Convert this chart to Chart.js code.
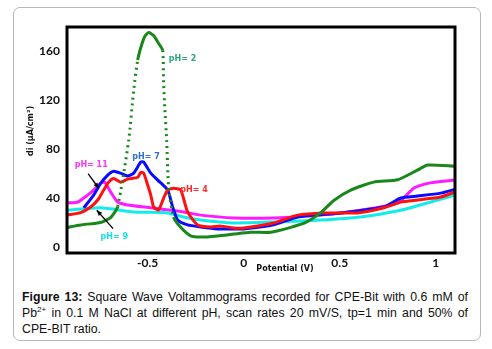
<!DOCTYPE html>
<html>
<head>
<meta charset="utf-8">
<script src="https://cdn.jsdelivr.net/npm/chart.js@4.4.1/dist/chart.umd.min.js"></script>
<style>
  html, body { margin: 0; padding: 0; background: #fff; }
  #page { position: relative; width: 492px; height: 349px; overflow: hidden; }
  #box {
    position: absolute; left: 13px; top: 7px; width: 466px; height: 332px;
    border: 1px solid #b8b8b8; border-radius: 7px;
  }
  #wrap { position: absolute; left: 0; top: 0; width: 492px; height: 280px; }
  #caption {
    position: absolute; left: 22px; top: 289px; width: 446px;
    font-family: "Liberation Sans", Arial, sans-serif; font-size: 12.3px;
    line-height: 16px; color: #111; text-align: justify;
  }
  #caption sup { font-size: 8px; line-height: 0; }
</style>
</head>
<body>
<div id="page">
  <div id="box"></div>
  <div id="wrap"><canvas id="swvChart" width="492" height="280"></canvas></div>
  <div id="caption"><b>Figure 13:</b> Square Wave Voltammograms recorded for CPE-Bit with 0.6 mM of Pb<sup>2+</sup> in 0.1 M NaCl at different pH, scan rates 20 mV/S, tp=1 min and 50% of CPE-BIT ratio.</div>
</div>
<script>
  // tick labels
  var yTicks = [0, 40, 80, 120, 160];
  var xTicks = [-0.5, 0, 0.5, 1];

  // pH 2 (green)
  var ph2X = [-0.917, -0.85, -0.745, -0.693, -0.656, -0.599, -0.573, -0.552, -0.536, -0.516, -0.495, -0.469, -0.443, -0.422, -0.417, -0.411, -0.401, -0.391, -0.365, -0.328, -0.276, -0.224, -0.135, -0.052, 0.036, 0.141, 0.245, 0.323, 0.401, 0.469, 0.557, 0.677, 0.802, 0.906, 0.958, 1.1];
  var ph2Y = [16, 18, 20, 24, 33, 87, 128, 153, 163, 172, 175.5, 173, 166.5, 161, 134, 114, 87, 49, 24.5, 16, 9, 8, 9, 10.5, 12, 12, 16, 20, 28, 38, 46.5, 53, 55, 63, 67, 66];

  // pH 4 (red)
  var ph4X = [-0.917, -0.849, -0.797, -0.76, -0.729, -0.703, -0.677, -0.641, -0.604, -0.552, -0.536, -0.521, -0.5, -0.484, -0.469, -0.443, -0.417, -0.396, -0.365, -0.328, -0.292, -0.24, -0.172, -0.12, -0.052, 0, 0.156, 0.281, 0.417, 0.594, 0.729, 0.818, 0.906, 1.026, 1.1];
  var ph4Y = [26, 28, 32.7, 38.4, 46.5, 53, 56, 53, 55.5, 57, 61, 60.4, 50.6, 42.4, 32.7, 30.2, 40, 46.5, 48, 46.5, 28.6, 18, 16.3, 17, 15.5, 15.5, 19.6, 26, 27.8, 27.8, 32, 36.7, 38.4, 40.8, 45];

  // pH 7 (blue)
  var ph7X = [-0.833, -0.781, -0.745, -0.708, -0.677, -0.641, -0.604, -0.573, -0.536, -0.521, -0.484, -0.448, -0.396, -0.37, -0.344, -0.292, -0.224, -0.135, -0.052, 0, 0.156, 0.281, 0.505, 0.729, 0.818, 0.906, 1.026, 1.1];
  var ph7Y = [32, 42.4, 52, 58.8, 62, 60.4, 58, 60.4, 69.4, 69.4, 60.4, 54.7, 46.5, 32.7, 22, 18, 16.3, 14.7, 14.7, 14.7, 18, 24.5, 27.8, 32.7, 40, 41.6, 44, 47];

  // pH 9 (cyan)
  var ph9X = [-0.917, -0.745, -0.573, -0.396, -0.313, -0.224, -0.052, 0.156, 0.401, 0.609, 0.818, 0.974, 1.1];
  var ph9Y = [30, 32, 28.6, 27.8, 24.5, 22, 19.6, 20.4, 22, 24.5, 30, 36.7, 42.4];

  // pH 11 (magenta)
  var ph11X = [-0.917, -0.865, -0.813, -0.781, -0.745, -0.724, -0.693, -0.656, -0.604, -0.484, -0.313, -0.224, -0.052, 0.156, 0.401, 0.609, 0.802, 0.885, 0.958, 1.1];
  var ph11Y = [36, 36.7, 42.4, 46.5, 52, 53, 45, 36.7, 34.3, 32, 28.6, 26, 23.7, 23.7, 26, 30, 36, 48, 52, 54.7];

  function toPoints(xs, ys) {
    return xs.map(function (x, i) { return { x: x, y: ys[i] }; });
  }

  // steep parts of the scan are plotted as sparse dots
  function steepDash(ctx) {
    var dx = Math.abs(ctx.p1.parsed.x - ctx.p0.parsed.x);
    var dy = Math.abs(ctx.p1.parsed.y - ctx.p0.parsed.y);
    return dy / dx > 700 ? [2, 4] : undefined;
  }

  function series(label, xs, ys, color) {
    return {
      label: label,
      data: toPoints(xs, ys),
      borderColor: color,
      backgroundColor: color,
      borderWidth: 3,
      pointRadius: 0,
      tension: 0.2,
      showLine: true,
      segment: { borderDash: steepDash }
    };
  }

  // labels and arrows placed in data coordinates
  var notes = [
    { text: 'pH= 2', x: -0.39, y: 154, color: '#2ea57a' },
    { text: 'pH= 7', x: -0.58, y: 74, color: '#2f6fd6' },
    { text: 'pH= 4', x: -0.33, y: 47, color: '#ff2a2a' },
    { text: 'pH= 11', x: -0.88, y: 67, color: '#ff33ff' },
    { text: 'pH= 9', x: -0.745, y: 8, color: '#16e0e8' }
  ];
  var arrows = [
    { x0: -0.81, y0: 60, x1: -0.755, y1: 48 },
    { x0: -0.68, y0: 15, x1: -0.765, y1: 30 }
  ];

  var framePlugin = {
    id: 'frame',
    afterDatasetsDraw: function (chart) {
      var c = chart.ctx, a = chart.chartArea;
      var xs = chart.scales.x, ys = chart.scales.y;
      c.save();
      c.lineWidth = 3;
      c.strokeStyle = '#000';
      c.strokeRect(a.left, a.top, a.right - a.left, a.bottom - a.top);

      c.font = 'bold 8px "DejaVu Sans", sans-serif';
      notes.forEach(function (n) {
        c.fillStyle = n.color;
        c.textAlign = 'left';
        c.textBaseline = 'middle';
        c.fillText(n.text, xs.getPixelForValue(n.x), ys.getPixelForValue(n.y));
      });

      c.strokeStyle = '#000';
      c.fillStyle = '#000';
      c.lineWidth = 1.3;
      arrows.forEach(function (r) {
        var px0 = xs.getPixelForValue(r.x0), py0 = ys.getPixelForValue(r.y0);
        var px1 = xs.getPixelForValue(r.x1), py1 = ys.getPixelForValue(r.y1);
        var ang = Math.atan2(py1 - py0, px1 - px0);
        c.beginPath();
        c.moveTo(px0, py0);
        c.lineTo(px1, py1);
        c.stroke();
        c.beginPath();
        c.moveTo(px1, py1);
        c.lineTo(px1 - 6 * Math.cos(ang - 0.4), py1 - 6 * Math.sin(ang - 0.4));
        c.lineTo(px1 - 6 * Math.cos(ang + 0.4), py1 - 6 * Math.sin(ang + 0.4));
        c.closePath();
        c.fill();
      });

      // axis titles
      c.fillStyle = '#111';
      c.font = 'bold 8px "DejaVu Sans", sans-serif';
      c.textAlign = 'center';
      c.textBaseline = 'middle';
      c.fillText('Potential (V)', 285, 269);
      c.translate(31, 131);
      c.rotate(-Math.PI / 2);
      c.fillText('di (\u03bcA/cm\u00b2)', 0, 0);
      c.restore();
    }
  };

  new Chart(document.getElementById('swvChart').getContext('2d'), {
    type: 'scatter',
    data: {
      datasets: [
        series('pH 2', ph2X, ph2Y, '#1a871a'),
        series('pH 4', ph4X, ph4Y, '#ff1010'),
        series('pH 7', ph7X, ph7Y, '#0a0aff'),
        series('pH 9', ph9X, ph9Y, '#14ecec'),
        series('pH 11', ph11X, ph11Y, '#ff1aff')
      ]
    },
    options: {
      responsive: false,
      animation: false,
      layout: { padding: { top: 27, right: 37, left: 0, bottom: 7 } },
      plugins: { legend: { display: false }, tooltip: { enabled: false } },
      scales: {
        x: {
          type: 'linear',
          min: -0.92,
          max: 1.1,
          afterFit: function (s) { s.height = 20; },
          afterBuildTicks: function (s) {
            s.ticks = xTicks.map(function (v) { return { value: v }; });
          },
          grid: { display: false, drawTicks: false },
          border: { display: false },
          ticks: {
            padding: 3,
            color: '#111',
            font: { family: 'Lato', weight: 'bold', size: 12 },
            callback: function (v) { return String(v); }
          }
        },
        y: {
          type: 'linear',
          min: -5,
          max: 180,
          afterFit: function (s) { s.width = 67; },
          afterBuildTicks: function (s) {
            s.ticks = yTicks.map(function (v) { return { value: v }; });
          },
          grid: { display: false, drawTicks: false },
          border: { display: false },
          ticks: {
            padding: 7,
            color: '#111',
            font: { family: 'Lato', weight: 'bold', size: 12 }
          }
        }
      }
    },
    plugins: [framePlugin]
  });
</script>
</body>
</html>
